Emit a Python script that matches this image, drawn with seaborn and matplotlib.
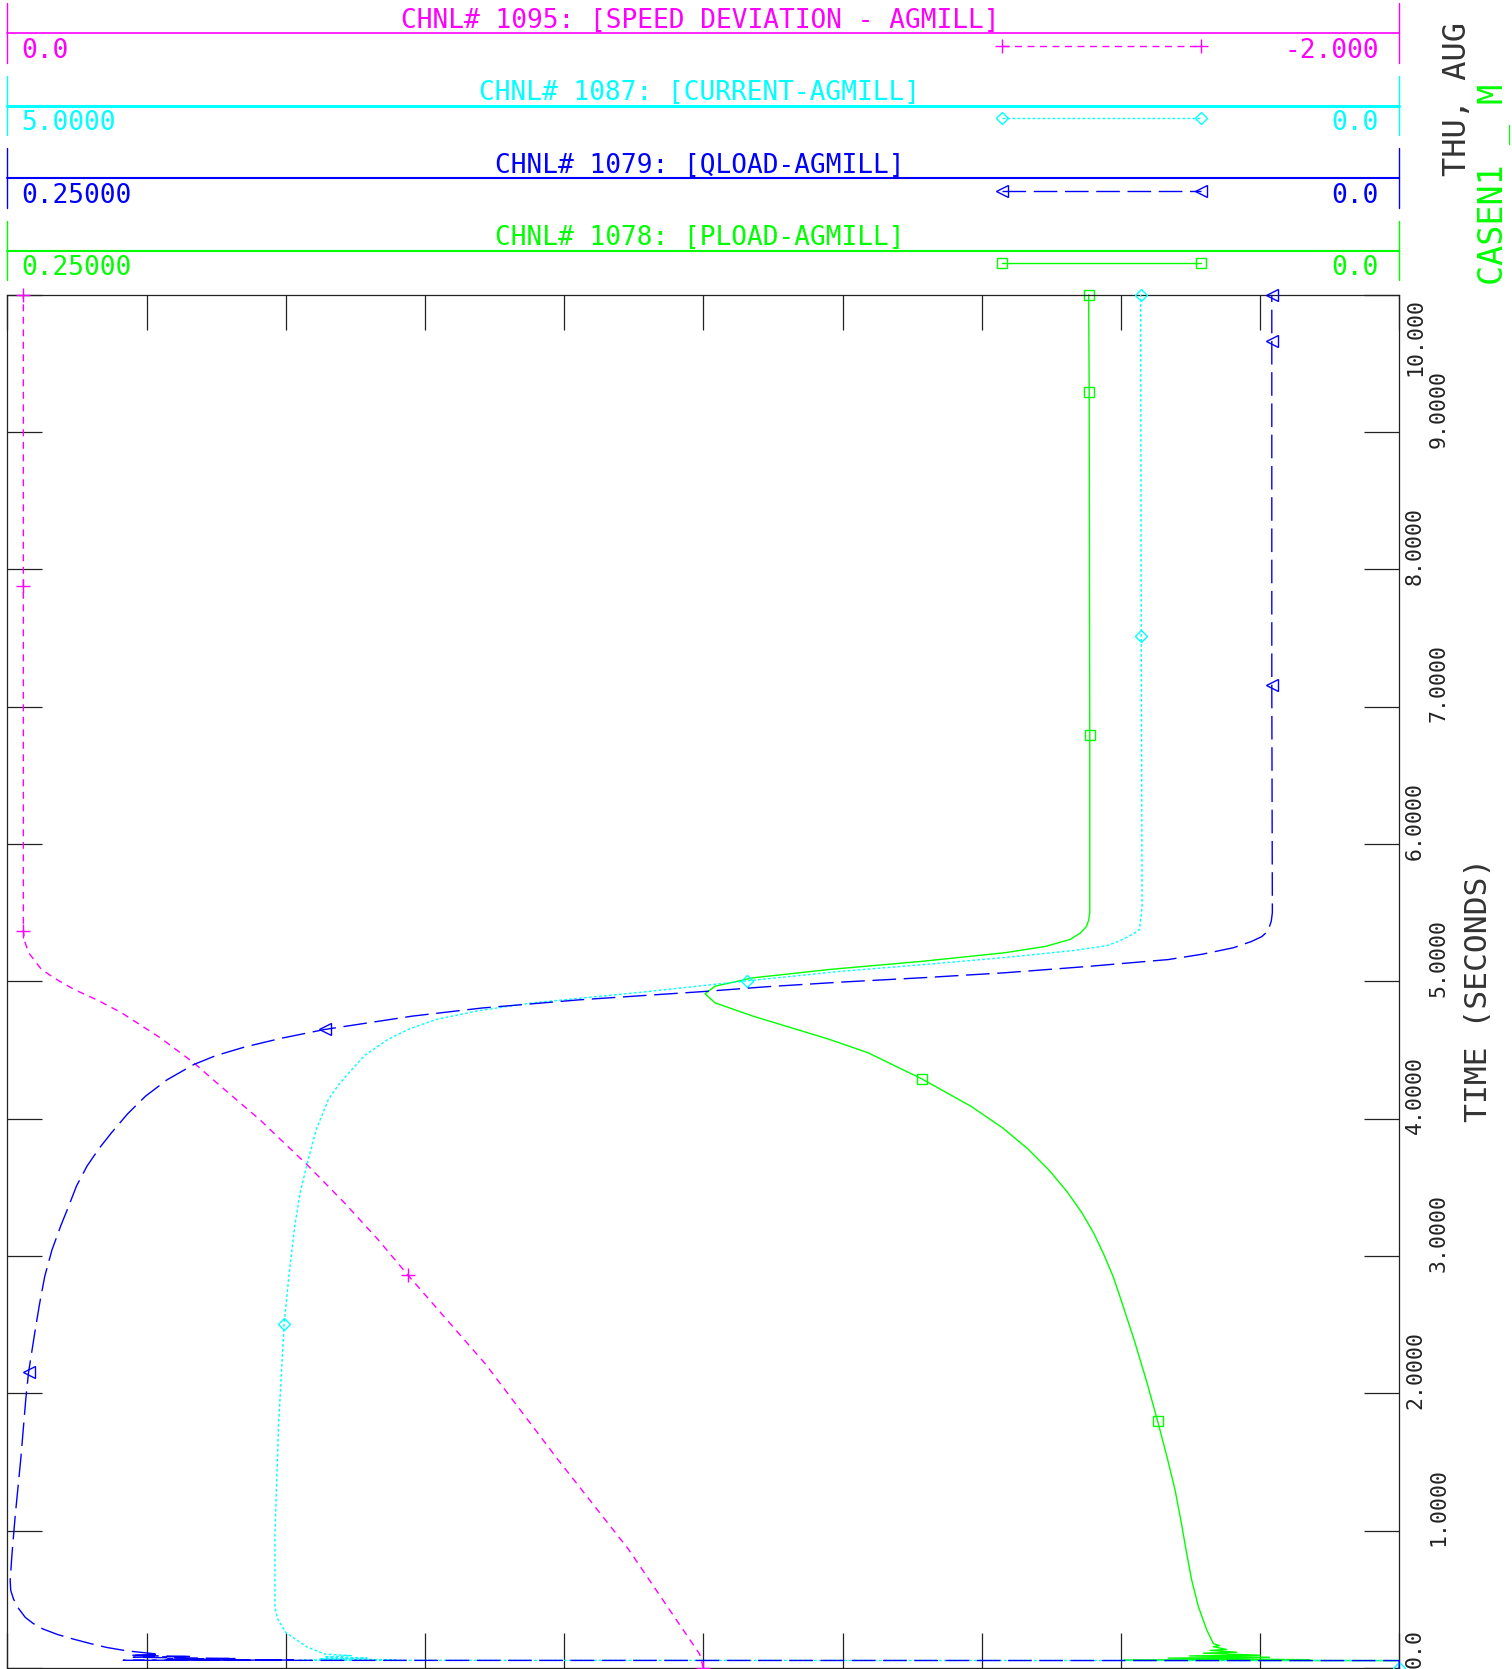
import numpy as np
import seaborn as sns
import matplotlib.pyplot as plt
from matplotlib.transforms import blended_transform_factory

sns.set_style("white")
plt.rcParams['font.family'] = ['DejaVu Sans Mono', 'DejaVu Sans']

# ---- channel data (time in seconds) ----
# CHNL# 1078 [PLOAD-AGMILL]
pload_t = [0.0, 0.054, 0.056, 0.060, 0.072, 0.078, 0.088, 0.093, 0.108, 0.115,
           0.128, 0.135, 0.155, 0.163, 0.178, 0.279, 0.449, 0.643, 0.837, 1.069,
           1.301, 1.534, 1.797, 2.076, 2.386, 2.696, 2.851, 3.005, 3.160, 3.315,
           3.470, 3.625, 3.780, 3.935, 4.090, 4.291, 4.480, 4.577, 4.671, 4.747,
           4.844, 4.910, 4.965, 5.026, 5.087, 5.147, 5.209, 5.255, 5.306, 5.352,
           5.399, 5.445, 5.500, 6.793, 9.295, 10.0]
pload_v = [0.0, 0.0, 0.0495, 0.0161, 0.0415, 0.0233, 0.0377, 0.0250, 0.0352, 0.0292,
           0.0340, 0.0310, 0.0334, 0.0323, 0.0334, 0.0346, 0.0361, 0.0373, 0.0382, 0.0392,
           0.0403, 0.0417, 0.0434, 0.0453, 0.0476, 0.0501, 0.0514, 0.0530, 0.0548, 0.0570,
           0.0597, 0.0629, 0.0667, 0.0713, 0.0769, 0.0858, 0.0954, 0.1023, 0.1099, 0.1161,
           0.1229, 0.1247, 0.1229, 0.1161, 0.1023, 0.0855, 0.0708, 0.0635, 0.0591, 0.0573,
           0.0562, 0.0558, 0.0556, 0.0556, 0.0557, 0.0558]
pload_marks = [1.797, 4.291, 6.793, 9.295, 10.0]

# CHNL# 1079 [QLOAD-AGMILL]
qload_t = [0.0, 0.054, 0.056, 0.058, 0.064, 0.069, 0.078, 0.084, 0.092, 0.100,
           0.125, 0.150, 0.178, 0.211, 0.244, 0.284, 0.325, 0.369, 0.434, 0.502,
           0.565, 0.635, 0.817, 1.108, 1.521, 1.957, 2.153, 2.308, 2.463, 2.657,
           2.851, 3.044, 3.222, 3.352, 3.509, 3.655, 3.780, 3.898, 4.036, 4.164,
           4.284, 4.395, 4.459, 4.522, 4.586, 4.650, 4.747, 4.806, 4.866, 4.926,
           4.961, 4.995, 5.027, 5.063, 5.108, 5.159, 5.198, 5.245, 5.290, 5.326,
           5.366, 5.438, 5.500, 7.160, 9.660, 10.0]
qload_v = [0.0, 0.0, 0.2292, 0.1986, 0.2213, 0.2089, 0.2274, 0.2169, 0.2280, 0.2227,
           0.2286, 0.2322, 0.2351, 0.2382, 0.2410, 0.2436, 0.2454, 0.2468, 0.2480, 0.2489,
           0.2494, 0.2495, 0.2492, 0.2486, 0.2476, 0.2467, 0.2462, 0.2456, 0.2450, 0.2442,
           0.2433, 0.2420, 0.2404, 0.2391, 0.2376, 0.2357, 0.2336, 0.2313, 0.2284, 0.2252,
           0.2213, 0.2165, 0.2126, 0.2074, 0.2008, 0.1930, 0.1773, 0.1648, 0.1472, 0.1250,
           0.1137, 0.1002, 0.0855, 0.0708, 0.0562, 0.0415, 0.0354, 0.0298, 0.0266, 0.0247,
           0.0236, 0.0230, 0.0228, 0.0229, 0.0229, 0.0229]
qload_marks = [2.153, 4.650, 7.160, 9.660, 10.0]

# CHNL# 1087 [CURRENT-AGMILL]
curr_t = [0.0, 0.054, 0.056, 0.060, 0.066, 0.072, 0.080, 0.090, 0.101, 0.153,
          0.259, 0.356, 0.443, 0.971, 1.764, 2.502, 2.851, 3.216, 3.455, 3.665,
          3.919, 4.140, 4.245, 4.335, 4.462, 4.578, 4.655, 4.723, 4.787, 4.844,
          4.919, 5.004, 5.074, 5.122, 5.174, 5.224, 5.260, 5.293, 5.345, 5.378,
          5.548, 7.514, 10.0]
curr_v = [0.0, 0.0, 3.956, 3.605, 3.880, 3.708, 3.861, 3.765, 3.859, 3.924,
          4.000, 4.029, 4.039, 4.039, 4.026, 4.006, 3.989, 3.968, 3.949, 3.924,
          3.891, 3.847, 3.811, 3.773, 3.716, 3.633, 3.555, 3.459, 3.307, 3.112,
          2.733, 2.343, 2.003, 1.711, 1.416, 1.175, 1.051, 1.007, 0.956, 0.933,
          0.924, 0.927, 0.929]
curr_marks = [0.0, 2.502, 5.004, 7.514, 10.0]

# CHNL# 1095 [SPEED DEVIATION - AGMILL]
speed_t = [0.0, 0.101, 0.866, 1.527, 2.213, 2.860, 3.122, 3.389, 3.665, 3.995,
           4.260, 4.407, 4.590, 4.772, 4.861, 4.942, 5.020, 5.087, 5.208, 5.291,
           5.368, 7.878, 10.0]
speed_v = [-1.000, -0.9947, -0.8922, -0.7896, -0.6870, -0.5757, -0.5322, -0.4840, -0.4306, -0.3622,
           -0.3011, -0.2679, -0.2194, -0.1638, -0.1304, -0.0956, -0.0688, -0.0489, -0.0306, -0.0249,
           -0.0229, -0.0229, -0.0229]
speed_marks = [0.0, 2.860, 5.368, 7.878, 10.0]

time_ticks = [0, 1, 2, 3, 4, 5, 6, 7, 8, 9, 10]
time_labels = ["0.0", "1.0000", "2.0000", "3.0000", "4.0000", "5.0000",
               "6.0000", "7.0000", "8.0000", "9.0000", "10.000"]

MAG, CYA, BLU, GRN = "#ff00ff", "#00ffff", "#0000ff", "#00ff00"

# (title, left value, right value, colour, dash, marker, t, v, marks, x-limits)
channels = [
    ("CHNL# 1095: [SPEED DEVIATION - AGMILL]", "0.0", "-2.000", MAG,
     (0, (5, 4)), "+", speed_t, speed_v, speed_marks, (0.0, -2.0)),
    ("CHNL# 1087: [CURRENT-AGMILL]", "5.0000", "0.0", CYA,
     (0, (2, 1.6)), "D", curr_t, curr_v, curr_marks, (5.0, 0.0)),
    ("CHNL# 1079: [QLOAD-AGMILL]", "0.25000", "0.0", BLU,
     (0, (17, 5.5)), "<", qload_t, qload_v, qload_marks, (0.25, 0.0)),
    ("CHNL# 1078: [PLOAD-AGMILL]", "0.25000", "0.0", GRN,
     "-", "s", pload_t, pload_v, pload_marks, (0.25, 0.0)),
]
msize = {"+": 10, "D": 6.5, "<": 8, "s": 7.5}

W_PX, H_PX = 1512, 1669
fig = plt.figure(figsize=(W_PX / 100, H_PX / 100), dpi=100)
L = 7.4 / W_PX
W = 1391.9 / W_PX
B = 1.0 / H_PX
H = (H_PX - 294.8 - 1.0) / H_PX
ax = fig.add_axes([L, B, W, H])

# main axis carries PLOAD, twin axes carry the other channels
for k in [3, 0, 1, 2]:
    title, lft, rgt, col, ls, mk, tt, vv, marks, lim = channels[k]
    a = ax if k == 3 else ax.twiny()
    sns.lineplot(x=vv, y=tt, ax=a, sort=False, estimator=None, color=col,
                 linestyle=ls, linewidth=1.0, marker=mk, markersize=msize[mk],
                 markevery=[tt.index(m) for m in marks], markerfacecolor="none",
                 markeredgecolor=col, markeredgewidth=1.0, clip_on=False)
    a.set_xlim(*lim)
    if a is not ax:
        a.axis("off")

ax.set_ylim(0, 10)
ax.set_xticks(np.linspace(0, 0.25, 11))
ax.set_yticks(time_ticks)
ax.set_xlabel("")
ax.set_ylabel("")
ax.tick_params(axis="both", direction="in", length=25, width=0.9, colors="#222222",
               top=True, bottom=True, left=True, right=True,
               labelbottom=False, labeltop=False, labelleft=False, labelright=False)
for s in ax.spines.values():
    s.set_color("#222222")
    s.set_linewidth(0.9)

# rotated time labels on the right
trans = blended_transform_factory(ax.transAxes, ax.transData)
label_pos = [0.14, 1.17, 2.17, 3.17, 4.17, 5.17, 6.17, 7.17, 8.17, 9.17, 9.69]
for i, (lab, yp) in enumerate(zip(time_labels, label_pos)):
    xp = 1.0113 if i % 2 == 0 else 1.0283
    ax.text(xp, yp, lab, rotation=90, ha="center", va="center", transform=trans,
            fontsize=15.5, color="#222222", clip_on=False)
ax.text(1.0572, 4.94, "TIME (SECONDS)", rotation=90, ha="center", va="center",
        transform=trans, fontsize=22.6, color="#333333", clip_on=False)

# channel header panels
hh = 290.0
axh = fig.add_axes([L, 1 - hh / H_PX, W, hh / H_PX])
axh.set_xlim(0, 1)
axh.set_ylim(hh, 0)
axh.axis("off")
hline_w = [1.2, 2.2, 1.5, 1.5]
for k, (title, lft, rgt, col, ls, mk, tt, vv, marks, lim) in enumerate(channels):
    off = 72.5 * k
    axh.plot([0, 1], [33.3 + off] * 2, color=col, lw=hline_w[k], clip_on=False)
    for xe in (0, 1):
        axh.plot([xe, xe], [3.3 + off, 62.7 + off], color=col, lw=1.0, clip_on=False)
    axh.text(0.4975, 20.7 + off, title, ha="center", va="center", color=col, fontsize=18.8)
    axh.text(0.0100, 50.7 + off, lft, ha="left", va="center", color=col, fontsize=18.8)
    axh.text(0.9854, 50.7 + off, rgt, ha="right", va="center", color=col, fontsize=18.8)
    axh.plot([0.7143, 0.8573], [45.7 + off] * 2, color=col, linestyle=ls, lw=1.0,
             marker=mk, markersize=msize[mk], markerfacecolor="none",
             markeredgecolor=col, markeredgewidth=1.0, clip_on=False)

fig.text(1458 / W_PX, 1 - 98.5 / H_PX, "THU, AUG", rotation=90, ha="center",
         va="center", fontsize=23, color="#333333")
fig.text(1511 / W_PX, 1 - 285 / H_PX, "CASEN1 _ M", rotation=90, ha="right",
         va="bottom", fontsize=24, color=GRN)

fig.savefig("out.png", dpi=100)
